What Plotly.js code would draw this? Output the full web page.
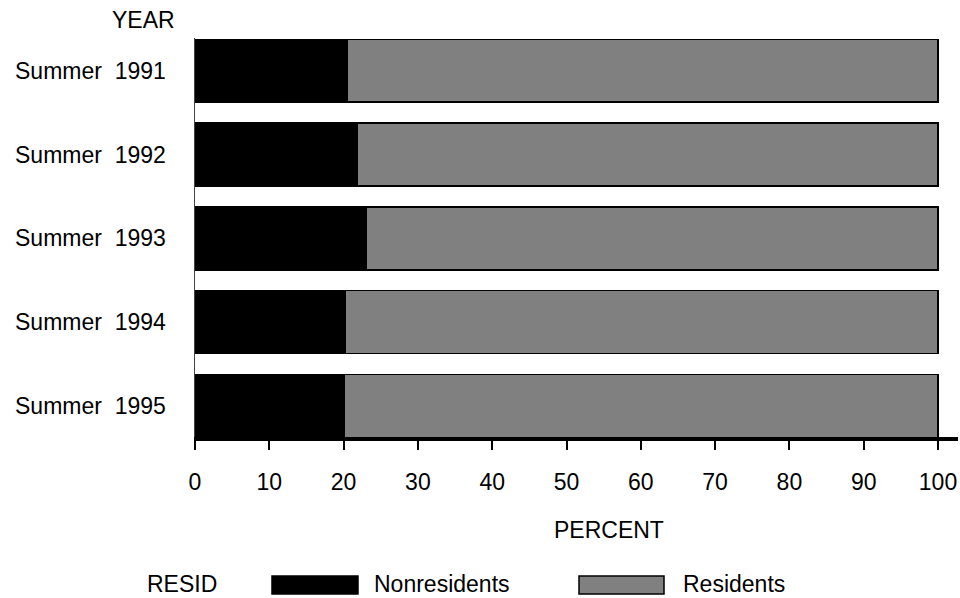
<!DOCTYPE html>
<html>
<head>
<meta charset="utf-8">
<script src="https://cdn.plot.ly/plotly-3.0.1.min.js"></script>
<style>html,body{margin:0;padding:0;background:#fff;}#chart{width:960px;height:598px;}</style>
</head>
<body>
<div id="chart"></div>
<script>
const years = ["Summer \u00a01991", "Summer \u00a01992", "Summer \u00a01993", "Summer \u00a01994", "Summer \u00a01995"];
const nonresidents = [20.5, 21.8, 23.1, 20.2, 20.1];
const residents = [79.5, 78.2, 76.9, 79.8, 79.9];
const xTicks = [0, 10, 20, 30, 40, 50, 60, 70, 80, 90, 100];

const FONT = '"Liberation Sans", Arial, Helvetica, sans-serif';
const L = 195, R = 958, T = 38, B = 437;
const px = x => (x - L) / (R - L);
const py = y => (B - y) / (B - T);

const traces = [
  {type: 'bar', orientation: 'h', name: 'Nonresidents', y: years, x: nonresidents,
   marker: {color: '#000000', line: {color: '#000000', width: 1.5}}, hoverinfo: 'x+y'},
  {type: 'bar', orientation: 'h', name: 'Residents', y: years, x: residents,
   marker: {color: '#808080', line: {color: '#000000', width: 1.5}}, hoverinfo: 'x+y'}
];

const layout = {
  width: 960, height: 598,
  margin: {l: L, r: 960 - R, t: T, b: 598 - B, pad: 0},
  paper_bgcolor: '#ffffff', plot_bgcolor: '#ffffff',
  font: {family: FONT, size: 23, color: '#000000'},
  barmode: 'stack', bargap: 0.25, showlegend: false,
  xaxis: {
    range: [0, (R - L) / 7.43], tickvals: xTicks, ticktext: xTicks.map(String),
    showgrid: false, zeroline: false, showline: true, linecolor: '#000000', linewidth: 4,
    ticks: 'outside', ticklen: 9, tickwidth: 2, tickcolor: '#000000',
    ticklabelstandoff: 12, tickfont: {family: FONT, size: 23, color: '#000000'}, fixedrange: true
  },
  yaxis: {
    type: 'category', categoryorder: 'array', categoryarray: years,
    range: [4.37, -0.39], autorange: false,
    showgrid: false, zeroline: false, showline: true, linecolor: '#444444', linewidth: 1.5,
    ticks: '', ticklabelstandoff: 23, tickfont: {family: FONT, size: 23, color: '#000000'}, fixedrange: true
  },
  annotations: [
    {text: 'YEAR', xref: 'paper', yref: 'paper', x: px(177), y: py(20), xanchor: 'right', yanchor: 'middle', showarrow: false, font: {family: FONT, size: 23}},
    {text: 'PERCENT', xref: 'paper', yref: 'paper', x: px(609), y: py(530), xanchor: 'center', yanchor: 'middle', showarrow: false, font: {family: FONT, size: 23}},
    {text: 'RESID', xref: 'paper', yref: 'paper', x: px(145), y: py(584), xanchor: 'left', yanchor: 'middle', showarrow: false, font: {family: FONT, size: 23}},
    {text: 'Nonresidents', xref: 'paper', yref: 'paper', x: px(372), y: py(584), xanchor: 'left', yanchor: 'middle', showarrow: false, font: {family: FONT, size: 23}},
    {text: 'Residents', xref: 'paper', yref: 'paper', x: px(681), y: py(584), xanchor: 'left', yanchor: 'middle', showarrow: false, font: {family: FONT, size: 23}}
  ],
  shapes: [
    {type: 'rect', xref: 'paper', yref: 'paper', x0: px(272), x1: px(358), y0: py(594), y1: py(576), fillcolor: '#000000', line: {color: '#000000', width: 1.5}},
    {type: 'rect', xref: 'paper', yref: 'paper', x0: px(579), x1: px(664), y0: py(594), y1: py(576), fillcolor: '#808080', line: {color: '#000000', width: 1.5}}
  ]
};

Plotly.newPlot('chart', traces, layout, {displayModeBar: false, staticPlot: true});
</script>
</body>
</html>
